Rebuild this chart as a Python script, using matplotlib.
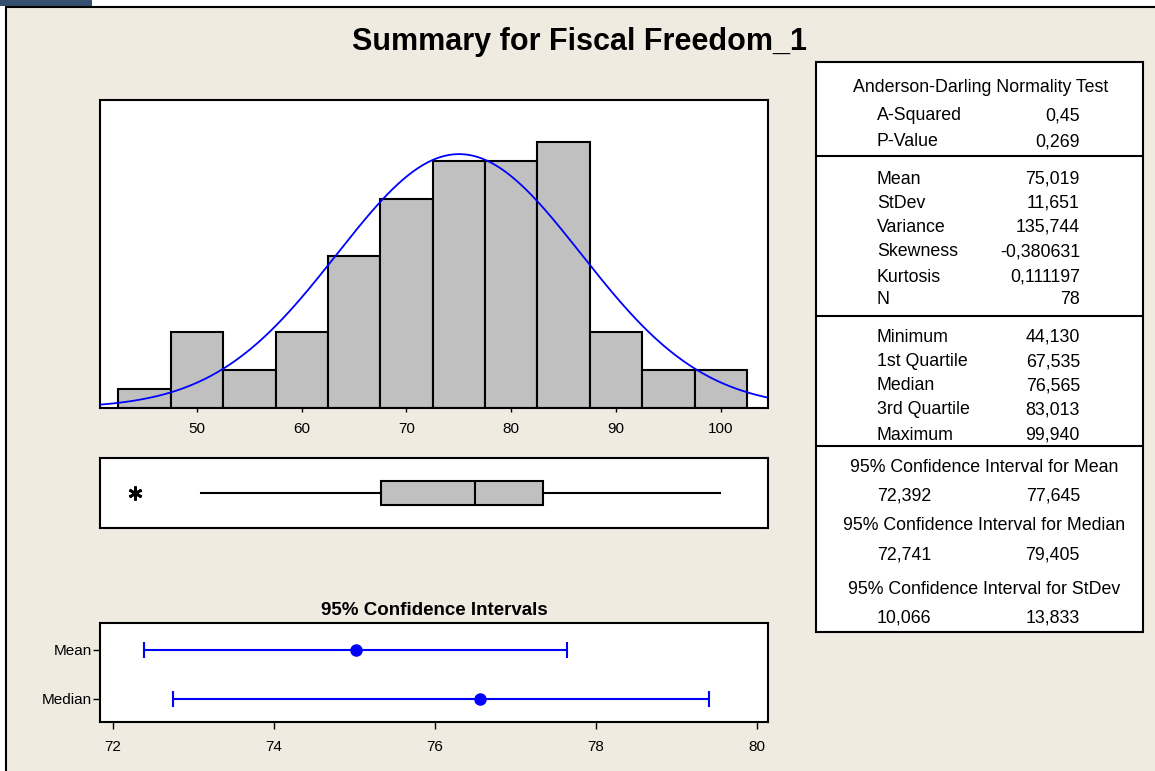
import numpy as np
import matplotlib
matplotlib.use('Agg')
import matplotlib.pyplot as plt
from matplotlib.patches import Rectangle

bin_start = 42.5
bin_width = 5.0
counts = [1, 4, 2, 4, 8, 11, 13, 13, 14, 4, 2, 2]
hist_ticks = [50, 60, 70, 80, 90, 100]

mean_val = 75.019
stdev_val = 11.651
n_obs = 78

q1, med, q3 = 67.535, 76.565, 83.013
whisk_lo, whisk_hi = 50.4, 99.94
outliers = [44.13]

ci_labels = ['Mean', 'Median']
ci_center = [75.019, 76.565]
ci_low = [72.392, 72.741]
ci_high = [77.645, 79.405]
ci_ticks = [72, 74, 76, 78, 80]

ad_rows = [('A-Squared', '0,45'), ('P-Value', '0,269')]
desc_rows = [('Mean', '75,019'), ('StDev', '11,651'), ('Variance', '135,744'),
             ('Skewness', '-0,380631'), ('Kurtosis', '0,111197'), ('N', '78')]
quant_rows = [('Minimum', '44,130'), ('1st Quartile', '67,535'), ('Median', '76,565'),
              ('3rd Quartile', '83,013'), ('Maximum', '99,940')]
ci_rows = [('95% Confidence Interval for Mean', '72,392', '77,645'),
           ('95% Confidence Interval for Median', '72,741', '79,405'),
           ('95% Confidence Interval for StDev', '10,066', '13,833')]

W, H = 1155, 771
beige = '#efebe1'
plt.rcParams['font.family'] = ['Liberation Sans', 'DejaVu Sans']

fig = plt.figure(figsize=(W / 100, H / 100), dpi=100)
fig.patch.set_facecolor('white')


def px_axes(x0, y0, x1, y1):
    return fig.add_axes([x0 / W, 1 - y1 / H, (x1 - x0) / W, (y1 - y0) / H])


# background layer in pixel coords
bg = px_axes(0, 0, W, H)
bg.set_xlim(0, W)
bg.set_ylim(H, 0)
bg.axis('off')
bg.add_patch(Rectangle((0, 0), 92, 6, color='#34506e', lw=0))
bg.add_patch(Rectangle((5.5, 6.5), W + 10, H, facecolor=beige, edgecolor='black', lw=1.5))

bg.text(580, 42, 'Summary for Fiscal Freedom_1', ha='center', va='center',
        fontsize=22, fontweight='bold')

# stats table
bg.add_patch(Rectangle((816, 62), 327, 570, facecolor='white', edgecolor='black', lw=1.5))
for yy in [156, 316, 446]:
    bg.plot([816, 1143], [yy, yy], color='black', lw=1.5)

lab_x, val_x = 877, 1080
fs = 12.8
bg.text(981, 88, 'Anderson-Darling Normality Test', ha='center', va='center', fontsize=fs)
for (lab, val), yy in zip(ad_rows, [116, 142]):
    bg.text(lab_x, yy, lab, ha='left', va='center', fontsize=fs)
    bg.text(val_x, yy, val, ha='right', va='center', fontsize=fs)
for (lab, val), yy in zip(desc_rows, [179, 203, 227, 252, 277, 300]):
    bg.text(lab_x, yy, lab, ha='left', va='center', fontsize=fs)
    bg.text(val_x, yy, val, ha='right', va='center', fontsize=fs)
for (lab, val), yy in zip(quant_rows, [337, 362, 386, 410, 435]):
    bg.text(lab_x, yy, lab, ha='left', va='center', fontsize=fs)
    bg.text(val_x, yy, val, ha='right', va='center', fontsize=fs)
for (title, lo, hi), yy in zip(ci_rows, [467, 526, 589]):
    bg.text(984, yy, title, ha='center', va='center', fontsize=fs)
    bg.text(lab_x, yy + 29, lo, ha='left', va='center', fontsize=fs)
    bg.text(val_x, yy + 29, hi, ha='right', va='center', fontsize=fs)

# histogram with fitted normal curve
xlim = (40.75, 104.5)
ax = px_axes(100, 100, 768, 408)
lefts = bin_start + bin_width * np.arange(len(counts))
ax.bar(lefts, counts, width=bin_width, align='edge', color='#c0c0c0',
       edgecolor='black', linewidth=1.5, zorder=2)
xs = np.linspace(xlim[0], xlim[1], 400)
pdf = np.exp(-0.5 * ((xs - mean_val) / stdev_val) ** 2) / (stdev_val * np.sqrt(2 * np.pi))
ax.plot(xs, pdf * n_obs * bin_width, color='blue', lw=1.3, zorder=3)
ax.set_xlim(*xlim)
ax.set_ylim(0, 16.2)
ax.set_yticks([])
ax.set_xticks(hist_ticks)
ax.tick_params(axis='x', length=3, width=1, labelsize=11, pad=7)
for sp in ax.spines.values():
    sp.set_linewidth(1.5)

# box plot
axb = px_axes(100, 458, 768, 528)
stats = [{'med': med, 'q1': q1, 'q3': q3, 'whislo': whisk_lo, 'whishi': whisk_hi,
          'fliers': outliers}]
axb.bxp(stats, vert=False, positions=[0], widths=0.34, patch_artist=True,
        showcaps=False,
        boxprops=dict(facecolor='#c0c0c0', edgecolor='black', linewidth=1.5),
        medianprops=dict(color='black', linewidth=1.5),
        whiskerprops=dict(color='black', linewidth=1.5),
        flierprops=dict(marker=(6, 2, 0), markersize=10, markeredgewidth=2,
                        markeredgecolor='black'))
axb.set_xlim(*xlim)
axb.set_ylim(-0.5, 0.5)
axb.set_xticks([])
axb.set_yticks([])
for sp in axb.spines.values():
    sp.set_linewidth(1.5)

# confidence intervals
axc = px_axes(100, 623, 768, 722)
ypos = [1, 0]
for y, c, lo, hi in zip(ypos, ci_center, ci_low, ci_high):
    axc.errorbar([c], [y], xerr=[[c - lo], [hi - c]], fmt='o', color='blue',
                 markersize=8, capsize=5.5, elinewidth=1.5, capthick=1.5)
axc.set_xlim(71.84, 80.14)
axc.set_ylim(-0.47, 1.55)
axc.set_xticks(ci_ticks)
axc.set_yticks(ypos)
axc.set_yticklabels(ci_labels)
axc.tick_params(axis='x', length=5, width=1, labelsize=11, pad=8)
axc.tick_params(axis='y', length=5, width=1, labelsize=11, pad=1)
for sp in axc.spines.values():
    sp.set_linewidth(1.5)
axc.set_title('95% Confidence Intervals', fontsize=13.5, fontweight='bold', pad=6)

fig.savefig('out.png', dpi=100, facecolor=fig.get_facecolor())
